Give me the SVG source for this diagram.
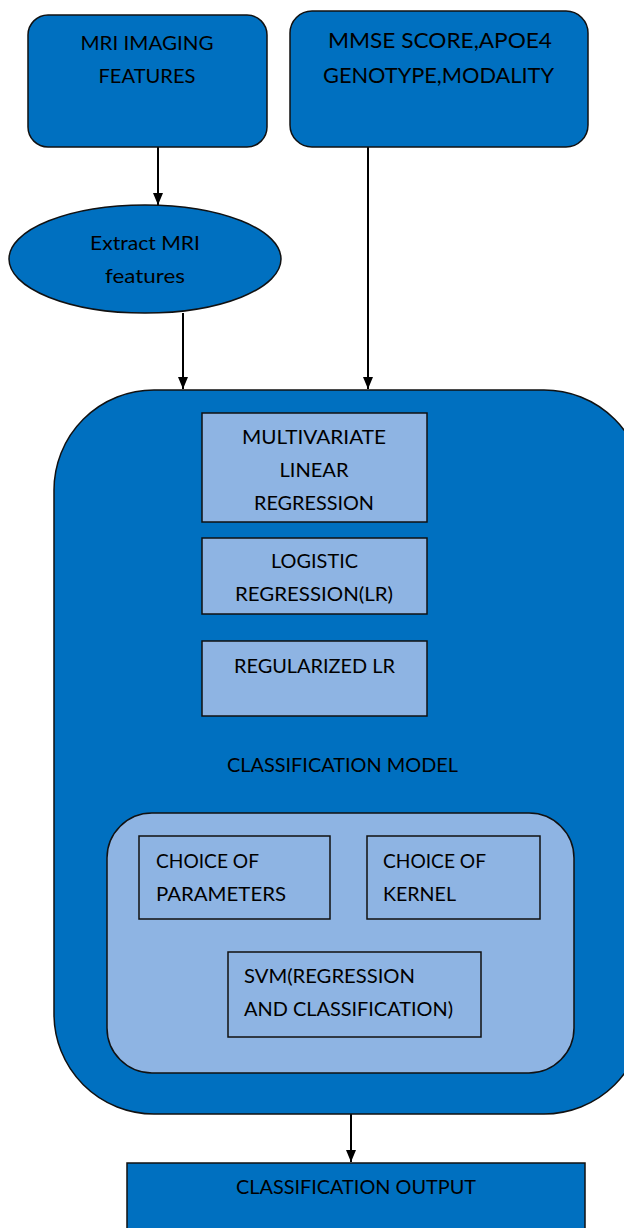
<svg xmlns="http://www.w3.org/2000/svg" width="624" height="1228" viewBox="0 0 624 1228">
<style>
.dk{fill:#0070C0;stroke:#111;stroke-width:1.5}
.lt{fill:#8EB4E3;stroke:#111;stroke-width:1.5}
.t{font-family:Lato,"Open Sans","Liberation Sans",sans-serif;font-size:19px;fill:#000}
.c{text-anchor:middle}
.edge{stroke:#000;stroke-width:2;fill:none;marker-end:url(#ah)}
</style>
<defs>
<marker id="ah" viewBox="0 0 12 10" refX="12" refY="5" markerWidth="12" markerHeight="10" markerUnits="userSpaceOnUse" orient="auto">
<path d="M0,0 L12,5 L0,10 Z" fill="#000"/>
</marker>
</defs>
<rect width="624" height="1228" fill="#fff"/>
<g id="connectors">
<line class="edge" x1="158" y1="147" x2="158" y2="205"/>
<line class="edge" x1="183" y1="313" x2="183" y2="389"/>
<line class="edge" x1="368" y1="147" x2="368" y2="389"/>
<line class="edge" x1="351" y1="1114" x2="351" y2="1162"/>
</g>
<g id="mri">
<rect class="dk" x="28" y="15" width="239" height="132" rx="20"/>
<text class="t c" x="147" y="50" textLength="133" lengthAdjust="spacingAndGlyphs">MRI IMAGING</text>
<text class="t c" x="147" y="83" textLength="97" lengthAdjust="spacingAndGlyphs">FEATURES</text>
</g>
<g id="mmse">
<rect class="dk" x="290" y="11" width="298" height="136" rx="22"/>
<text class="t c" x="440" y="48" style="font-size:21px" textLength="224" lengthAdjust="spacingAndGlyphs">MMSE SCORE,APOE4</text>
<text class="t c" x="438.5" y="83" style="font-size:21px" textLength="231" lengthAdjust="spacingAndGlyphs">GENOTYPE,MODALITY</text>
</g>
<g id="extract">
<ellipse class="dk" cx="145" cy="259" rx="136" ry="54"/>
<text class="t c" x="145" y="250" textLength="110" lengthAdjust="spacingAndGlyphs">Extract MRI</text>
<text class="t c" x="145" y="283" textLength="80" lengthAdjust="spacingAndGlyphs">features</text>
</g>
<g id="model">
<rect class="dk" x="54" y="390" width="590" height="724" rx="100"/>
<text class="t c" x="342.5" y="772" textLength="231" lengthAdjust="spacingAndGlyphs">CLASSIFICATION MODEL</text>
</g>
<g id="mlr">
<rect class="lt" x="202" y="413" width="225" height="109"/>
<text class="t c" x="314" y="444" textLength="144" lengthAdjust="spacingAndGlyphs">MULTIVARIATE</text>
<text class="t c" x="314" y="477" textLength="69" lengthAdjust="spacingAndGlyphs">LINEAR</text>
<text class="t c" x="314" y="510" textLength="120" lengthAdjust="spacingAndGlyphs">REGRESSION</text>
</g>
<g id="lr">
<rect class="lt" x="202" y="538" width="225" height="76"/>
<text class="t c" x="314.5" y="568" textLength="87" lengthAdjust="spacingAndGlyphs">LOGISTIC</text>
<text class="t c" x="314" y="601" textLength="158" lengthAdjust="spacingAndGlyphs">REGRESSION(LR)</text>
</g>
<g id="rlr">
<rect class="lt" x="202" y="641" width="225" height="75"/>
<text class="t c" x="314.5" y="673" textLength="161" lengthAdjust="spacingAndGlyphs">REGULARIZED LR</text>
</g>
<g id="svmgroup">
<rect class="lt" x="107" y="813" width="467" height="260" rx="45"/>
</g>
<g id="params">
<rect class="lt" x="139" y="836" width="191" height="83"/>
<text class="t" x="156" y="868" textLength="103" lengthAdjust="spacingAndGlyphs">CHOICE OF</text>
<text class="t" x="156" y="901" textLength="130" lengthAdjust="spacingAndGlyphs">PARAMETERS</text>
</g>
<g id="kernel">
<rect class="lt" x="367" y="836" width="173" height="83"/>
<text class="t" x="383" y="868" textLength="103" lengthAdjust="spacingAndGlyphs">CHOICE OF</text>
<text class="t" x="383" y="901" textLength="73" lengthAdjust="spacingAndGlyphs">KERNEL</text>
</g>
<g id="svm">
<rect class="lt" x="228" y="952" width="253" height="85"/>
<text class="t" x="244" y="983" textLength="171" lengthAdjust="spacingAndGlyphs">SVM(REGRESSION</text>
<text class="t" x="244" y="1016" textLength="209" lengthAdjust="spacingAndGlyphs">AND CLASSIFICATION)</text>
</g>
<g id="output">
<rect class="dk" x="127" y="1163" width="458" height="80"/>
<text class="t c" x="356" y="1194" textLength="240" lengthAdjust="spacingAndGlyphs">CLASSIFICATION OUTPUT</text>
</g>
</svg>
